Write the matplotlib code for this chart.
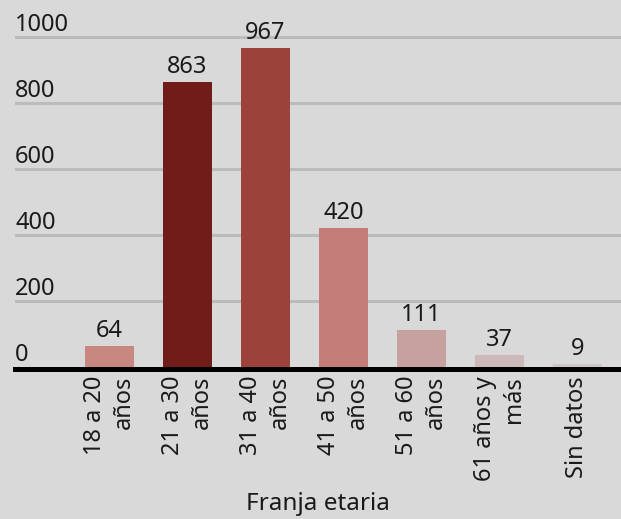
import matplotlib
matplotlib.use("Agg")
import matplotlib.pyplot as plt

# data
categories = ["18 a 20\naños", "21 a 30\naños", "31 a 40\naños", "41 a 50\naños",
              "51 a 60\naños", "61 años y\nmás", "Sin datos"]
values = [64, 863, 967, 420, 111, 37, 9]
colors = ["#c98781", "#701c19", "#9b433b", "#c47c79", "#c6a19f", "#cdb9b9", "#cdc6c6"]
yticks = [0, 200, 400, 600, 800, 1000]

plt.rcParams['font.family'] = ['Noto Sans', 'DejaVu Sans']
bg = "#d9d9d9"
txt = "#1a1a1a"
fs = 17

fig = plt.figure(figsize=(6.21, 5.19), dpi=100, facecolor=bg)
# axes: left edge at x=15px, right edge at 621px, value 0 near y=367px
ax = fig.add_axes([15 / 621, (519 - 369) / 519, 1 - 15 / 621, (369 - 4) / 519])
ax.set_facecolor(bg)

x = list(range(len(values)))
ax.bar(x, values, width=0.63, color=colors, zorder=2)

ax.set_xlim(-1.21, 6.56)
ax.set_ylim(-6, 1100)

# gridlines
for t in yticks:
    if t > 0:
        ax.axhline(t, color="#bbbbbb", lw=2.2, zorder=1)
    ax.annotate(str(t), xy=(0, t), xycoords=ax.get_yaxis_transform(),
                xytext=(0, 6), textcoords="offset pixels",
                ha="left", va="baseline", fontsize=fs, color=txt)

# value labels above bars
for xi, v in zip(x, values):
    ax.annotate(str(v), xy=(xi, v), xytext=(0, 9), textcoords="offset pixels",
                ha="center", va="baseline", fontsize=fs, color=txt)

for s in ["top", "right", "left"]:
    ax.spines[s].set_visible(False)
ax.spines["bottom"].set_color("black")
ax.spines["bottom"].set_linewidth(3.6)
ax.spines["bottom"].set_position(("data", -6))
ax.spines["bottom"].set_zorder(3)

ax.set_yticks([])
ax.set_xticks(x)
ax.set_xticklabels(categories, rotation=90, fontsize=fs, color=txt,
                   multialignment="right", linespacing=1.25)
ax.tick_params(axis="x", length=0, pad=5)

ax.set_xlabel("Franja etaria", fontsize=17.5, color=txt, labelpad=8)

fig.savefig("out.png", dpi=100, facecolor=bg)
